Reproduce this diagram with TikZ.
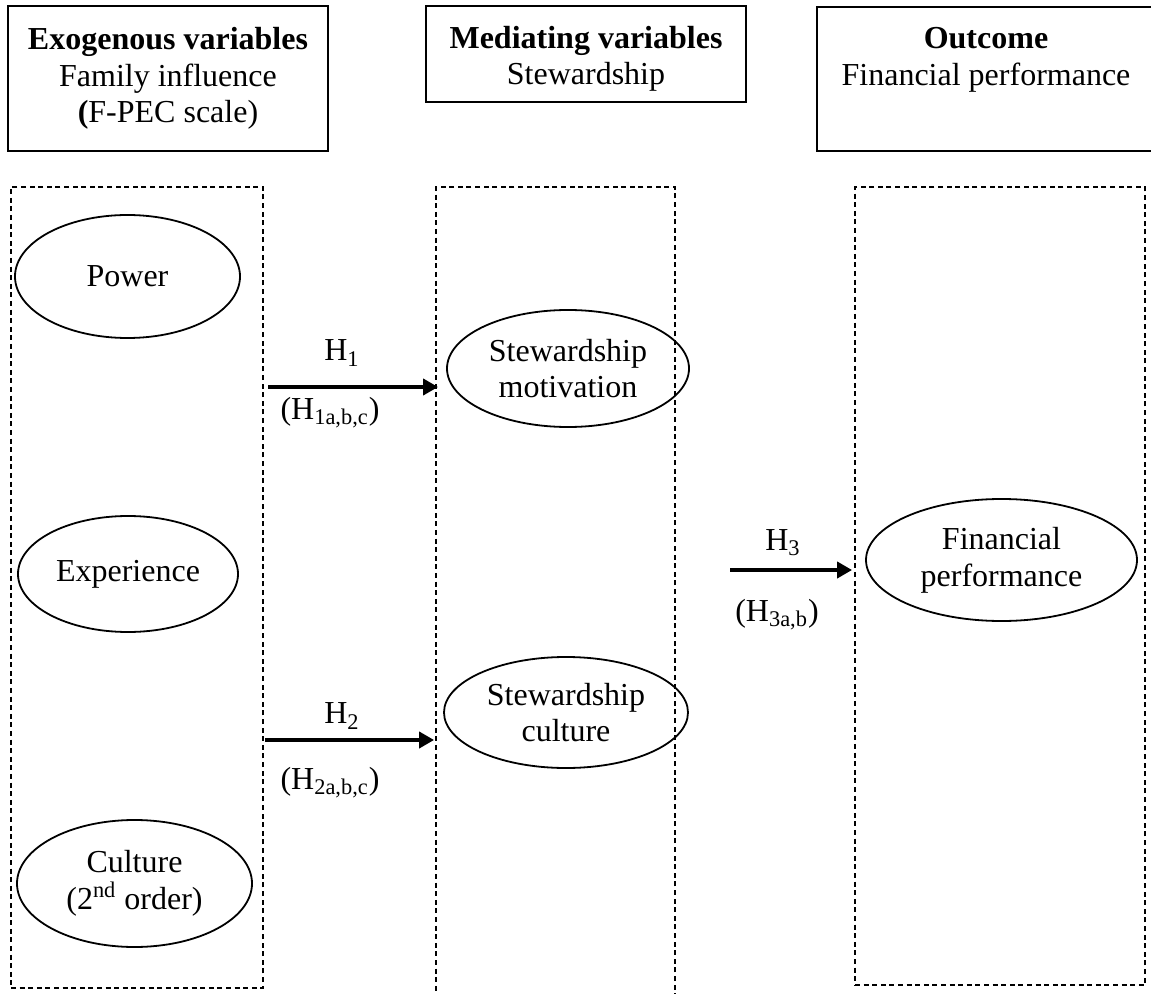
\documentclass[tikz,border=0pt]{standalone}
\usepackage{fontspec}
\setmainfont{Liberation Serif}
\usetikzlibrary{shapes,arrows.meta,positioning}

\begin{document}
\begin{tikzpicture}[x=0.5pt, y=-0.5pt,
    every node/.style={font=\fontsize{16}{18.4}\selectfont},
    headbox/.style={draw, line width=0.9pt, align=center, inner sep=0pt},
    groupbox/.style={draw, line width=0.6pt, dash pattern=on 2.5pt off 1.8pt, inner sep=0pt},
    latent/.style={draw, ellipse, line width=0.9pt, align=center, inner sep=0pt},
    hyp/.style={-{Triangle[length=7.5pt,width=8pt]}, line width=2pt}]
    \useasboundingbox (0,0) rectangle (1151,994);
    \clip (0,0) rectangle (1151,994);

    % Headers
    \node[headbox, minimum width=160pt, minimum height=72.5pt] (exohead) at (168,78.5) {
        \textbf{Exogenous variables}\\
        Family influence\\
        \textbf{(}F-PEC scale)
    };
    \node[headbox, minimum width=160pt, minimum height=48pt] (medhead) at (586,54) {
        \rule{0pt}{16pt}\textbf{Mediating variables}\\
        Stewardship
    };
    \node[headbox, minimum width=169pt, minimum height=72pt] (outhead) at (986,79) {
        \textbf{Outcome}\\
        Financial performance\\[4pt]
        \mbox{}
    };

    % Groups
    \node[groupbox, minimum width=126pt, minimum height=400.5pt] (exogroup) at (137,587.5) {};
    \node[groupbox, minimum width=119.5pt, minimum height=406.5pt] (medgroup) at (555.5,593.5) {};
    \node[groupbox, minimum width=145pt, minimum height=399pt] (outgroup) at (1000,586) {};

    % Constructs
    \node[latent, minimum width=112.5pt, minimum height=61.5pt] (power) at (127.5,276.5) {Power};
    \node[latent, minimum width=110pt, minimum height=58pt] (exper) at (128,574) {Experience};
    \node[latent, minimum width=117.5pt, minimum height=63.5pt] (cult) at (134.5,883.5) {
        Culture\\
        (2\textsuperscript{nd} order)
    };
    \node[latent, minimum width=121pt, minimum height=58.5pt] (motiv) at (568,368.5) {
        Stewardship\\
        motivation
    };
    \node[latent, minimum width=122pt, minimum height=55.5pt] (stcult) at (566,712.5) {
        Stewardship\\
        culture
    };
    \node[latent, minimum width=135.5pt, minimum height=61pt] (finperf) at (1001.5,560) {
        Financial\\
        performance
    };

    % Hypotheses
    \coordinate (h1s) at (268,387);
    \coordinate (h2s) at (265,740);
    \coordinate (h3s) at (730,570);
    \draw[hyp, shorten >=4pt] (h1s) -- (h1s -| motiv.west);
    \draw[hyp, shorten >=4.5pt] (h2s) -- (h2s -| stcult.west);
    \draw[hyp, shorten >=6.5pt] (h3s) -- (h3s -| finperf.west);

    \node (h1lab) at (342,353) {H\textsubscript{1}};
    \node (h1sub) at (330,413) {(H\textsubscript{1a,b,c})};
    \node (h2lab) at (342,716) {H\textsubscript{2}};
    \node (h2sub) at (330,783) {(H\textsubscript{2a,b,c})};
    \node (h3lab) at (783,543) {H\textsubscript{3}};
    \node (h3sub) at (777,615) {(H\textsubscript{3a,b})};
\end{tikzpicture}
\end{document}
